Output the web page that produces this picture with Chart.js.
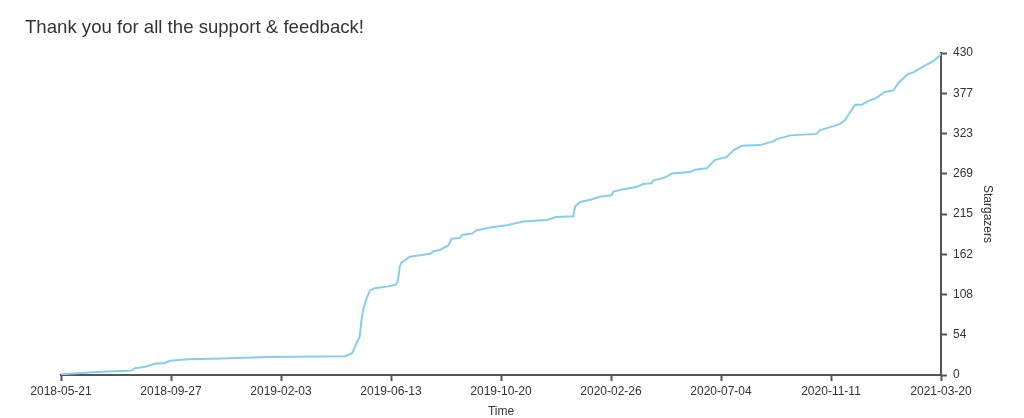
<!DOCTYPE html>
<html>
<head>
<meta charset="utf-8">
<script src="https://cdn.jsdelivr.net/npm/chart.js@4.4.1/dist/chart.umd.min.js"></script>
<style>
  html, body { margin: 0; padding: 0; background: #fff; }
  #wrap { width: 1024px; height: 418px; }
</style>
</head>
<body>
<div id="wrap"><canvas id="chart" width="1024" height="418"></canvas></div>
<script>
// days since 2018-05-21
const days = [0, 1, 43, 83, 87, 99, 110, 122, 128, 149, 189, 243, 334, 342, 347, 351, 353, 355, 359, 363, 369,
    383, 394, 396, 398, 400, 410, 422, 434, 437, 445, 455, 459, 469, 471, 483, 488, 504, 524, 543, 571,
    582, 602, 604, 610, 622, 633, 647, 649, 661, 676, 684, 694, 696, 708, 718, 739, 745, 759, 768, 782,
    790, 800, 821, 837, 841, 857, 888, 892, 904, 915, 921, 933, 941, 947, 958, 968, 978, 984, 994, 1003,
    1015, 1025, 1033, 1034];
const stargazers = [0, 1, 4, 6, 9, 11, 15, 16, 19, 21, 22, 24, 25, 29, 42, 51, 73, 87, 102, 113, 116,
    118, 121, 127, 145, 150, 158, 160, 162, 165, 167, 173, 182, 183, 187, 189, 193, 197, 200, 205, 207,
    211, 212, 225, 231, 234, 238, 240, 245, 248, 251, 255, 256, 260, 263, 269, 271, 274, 276, 287, 291,
    300, 306, 307, 312, 315, 320, 322, 327, 331, 335, 340, 361, 361, 365, 370, 378, 380, 390, 401, 405,
    413, 419, 427, 430];

const xTickLabels = ['2018-05-21', '2018-09-27', '2019-02-03', '2019-06-13', '2019-10-20',
    '2020-02-26', '2020-07-04', '2020-11-11', '2021-03-20'];
const yTickLabels = ['0', '54', '108', '162', '215', '269', '323', '377', '430'];
const xMax = 1034;
const yMax = 430;

const axisColor = '#555';
const textColor = '#333';

const points = days.map((d, i) => ({ x: d, y: stargazers[i] }));

const titlePlugin = {
    id: 'leftTitle',
    afterDraw(chart) {
        const ctx = chart.ctx;
        ctx.save();
        ctx.font = '18.6px "Liberation Sans", Arial, sans-serif';
        ctx.fillStyle = textColor;
        ctx.textBaseline = 'middle';
        ctx.textAlign = 'left';
        ctx.fillText('Thank you for all the support & feedback!', 25, 28);
        ctx.restore();
    }
};

const evenTicks = (max, count) => (scale) => {
    scale.ticks = [];
    for (let i = 0; i < count; i++) {
        scale.ticks.push({ value: max * i / (count - 1) });
    }
};

new Chart(document.getElementById('chart'), {
    type: 'line',
    data: {
        datasets: [{
            data: points,
            borderColor: '#87ceeb',
            borderWidth: 2,
            pointRadius: 0,
            fill: false,
            tension: 0
        }]
    },
    options: {
        responsive: false,
        animation: false,
        layout: {
            padding: { left: 61, right: 0, top: 53, bottom: 0 }
        },
        plugins: {
            legend: { display: false },
            tooltip: { enabled: false },
            title: { display: false }
        },
        scales: {
            x: {
                type: 'linear',
                min: 0,
                max: xMax,
                afterBuildTicks: evenTicks(xMax, xTickLabels.length),
                afterFit: (scale) => { scale.height = 43; },
                border: { display: true, color: axisColor, width: 2 },
                grid: { drawOnChartArea: false, drawTicks: true, tickLength: 6, tickColor: axisColor, tickWidth: 2 },
                ticks: {
                    autoSkip: false,
                    maxRotation: 0,
                    padding: 3,
                    color: textColor,
                    font: { family: '"Liberation Sans", Arial, sans-serif', size: 12 },
                    callback: (value, index) => xTickLabels[index]
                },
                title: {
                    display: true,
                    text: 'Time',
                    color: textColor,
                    padding: 0,
                    font: { family: '"Liberation Sans", Arial, sans-serif', size: 12, lineHeight: 1 }
                }
            },
            y: {
                position: 'right',
                min: 0,
                max: yMax,
                afterBuildTicks: evenTicks(yMax, yTickLabels.length),
                afterFit: (scale) => { scale.width = 83; },
                border: { display: true, color: axisColor, width: 2 },
                grid: { drawOnChartArea: false, drawTicks: true, tickLength: 6, tickColor: axisColor, tickWidth: 2 },
                ticks: {
                    padding: 6,
                    color: textColor,
                    font: { family: '"Liberation Sans", Arial, sans-serif', size: 12 },
                    callback: (value, index) => yTickLabels[index]
                },
                title: {
                    display: true,
                    text: 'Stargazers',
                    color: textColor,
                    padding: { top: 31, bottom: 0 },
                    font: { family: '"Liberation Sans", Arial, sans-serif', size: 12, lineHeight: 1 }
                }
            }
        }
    },
    plugins: [titlePlugin]
});
</script>
</body>
</html>
